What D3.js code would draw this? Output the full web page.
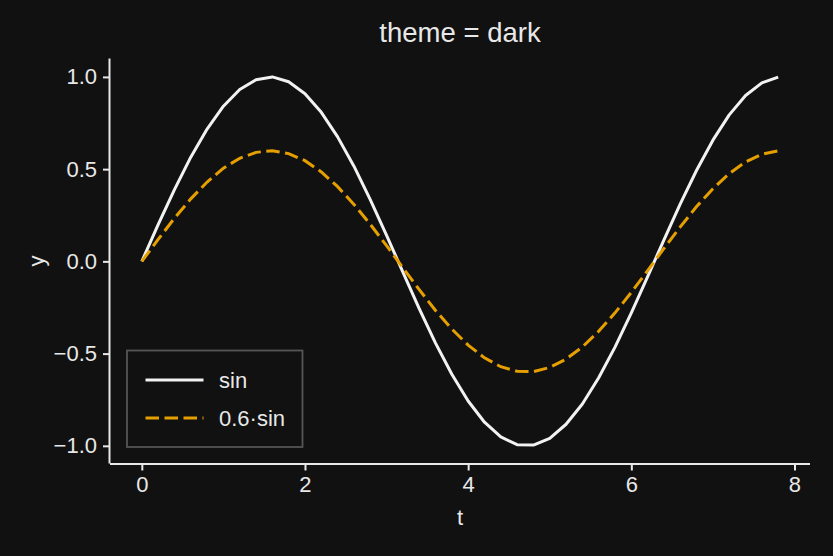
<!DOCTYPE html>
<html>
<head>
<meta charset="utf-8">
<script src="https://cdn.jsdelivr.net/npm/d3@7"></script>
<style>
  html, body { margin: 0; padding: 0; background: #111111; }
  svg { display: block; }
  text { font-family: "Liberation Sans", Arial, sans-serif; fill: #e8e8e8; }
</style>
</head>
<body>
<svg id="chart" width="833" height="556"></svg>
<script>
// ---- data ----
const tValues = [0.0, 0.2, 0.4, 0.6, 0.8, 1.0, 1.2, 1.4, 1.6, 1.8,
                 2.0, 2.2, 2.4, 2.6, 2.8, 3.0, 3.2, 3.4, 3.6, 3.8,
                 4.0, 4.2, 4.4, 4.6, 4.8, 5.0, 5.2, 5.4, 5.6, 5.8,
                 6.0, 6.2, 6.4, 6.6, 6.8, 7.0, 7.2, 7.4, 7.6, 7.8];
const sinValues = [0.000, 0.199, 0.389, 0.565, 0.717, 0.841, 0.932, 0.985, 1.000, 0.974,
                   0.909, 0.808, 0.675, 0.516, 0.335, 0.141, -0.058, -0.256, -0.443, -0.612,
                   -0.757, -0.872, -0.952, -0.994, -0.996, -0.959, -0.883, -0.773, -0.631, -0.465,
                   -0.279, -0.083, 0.117, 0.312, 0.494, 0.657, 0.794, 0.899, 0.968, 0.999];
const scaledSinValues = [0.000, 0.119, 0.234, 0.339, 0.430, 0.505, 0.559, 0.591, 0.600, 0.584,
                         0.546, 0.485, 0.405, 0.309, 0.201, 0.085, -0.035, -0.153, -0.266, -0.367,
                         -0.454, -0.523, -0.571, -0.596, -0.598, -0.575, -0.530, -0.464, -0.379, -0.279,
                         -0.168, -0.050, 0.070, 0.187, 0.297, 0.394, 0.476, 0.539, 0.581, 0.599];
const seriesNames = ["sin", "0.6·sin"];
const xTicks = [0, 2, 4, 6, 8];
const yTicks = [-1.0, -0.5, 0.0, 0.5, 1.0];
const titleText = "theme = dark";
const xLabel = "t";
const yLabel = "y";

// ---- layout ----
const svg = d3.select("#chart");
const W = 833, H = 556;
const plot = { left: 110, right: 810, top: 58.5, bottom: 463.5 };
const fg = "#e8e8e8";
const lineWhite = "#f2f2f2";
const orange = "#E69F00";
const fontSize = 22;

svg.append("rect").attr("width", W).attr("height", H).attr("fill", "#111111");

// domains with 5% margins like matplotlib
const tMin = d3.min(tValues), tMax = d3.max(tValues);
const tPad = (tMax - tMin) * 0.05;
const yAll = sinValues.concat(scaledSinValues);
const yMin = d3.min(yAll), yMax = d3.max(yAll);
const yPad = (yMax - yMin) * 0.05;

const x = d3.scaleLinear().domain([tMin - tPad, tMax + tPad]).range([plot.left, plot.right]);
const y = d3.scaleLinear().domain([yMin - yPad, yMax + yPad]).range([plot.bottom, plot.top]);

// axes
const xAxis = d3.axisBottom(x).tickValues(xTicks).tickFormat(d3.format("d")).tickSizeOuter(0).tickSize(7).tickPadding(6);
const yAxis = d3.axisLeft(y).tickValues(yTicks).tickFormat(d => d3.format(".1f")(d).replace("-", "\u2212")).tickSizeOuter(0).tickSize(7).tickPadding(6);

const gx = svg.append("g").attr("transform", `translate(0,${plot.bottom})`).call(xAxis);
const gy = svg.append("g").attr("transform", `translate(${plot.left},0)`).call(yAxis);

[gx, gy].forEach(g => {
  g.select(".domain").attr("stroke", fg).attr("stroke-width", 2);
  g.selectAll(".tick line").attr("stroke", fg).attr("stroke-width", 2);
  g.selectAll(".tick text").attr("fill", fg).style("font-size", fontSize + "px")
    .style("font-family", '"Liberation Sans", Arial, sans-serif');
});
gx.select(".domain").attr("d", `M${plot.left},0.5H${plot.right}`);
gy.select(".domain").attr("d", `M-0.5,${plot.bottom}V${plot.top}`);

// lines
const data1 = tValues.map((t, i) => [t, sinValues[i]]);
const data2 = tValues.map((t, i) => [t, scaledSinValues[i]]);
const line = d3.line().x(d => x(d[0])).y(d => y(d[1]));

svg.append("path").datum(data1).attr("d", line)
  .attr("fill", "none").attr("stroke", lineWhite).attr("stroke-width", 3).attr("stroke-linejoin", "round");
svg.append("path").datum(data2).attr("d", line)
  .attr("fill", "none").attr("stroke", orange).attr("stroke-width", 3)
  .attr("stroke-dasharray", "13.5,5.5");

// title & labels
svg.append("text").attr("x", (plot.left + plot.right) / 2).attr("y", 42)
  .attr("text-anchor", "middle").style("font-size", "27.5px").text(titleText);
svg.append("text").attr("x", (plot.left + plot.right) / 2).attr("y", 525)
  .attr("text-anchor", "middle").style("font-size", fontSize + "px").text(xLabel);
svg.append("text").attr("transform", `translate(44,${(plot.top + plot.bottom) / 2}) rotate(-90)`)
  .attr("text-anchor", "middle").style("font-size", fontSize + "px").text(yLabel);

// legend
const lg = svg.append("g");
lg.append("rect").attr("x", 127).attr("y", 350.5).attr("width", 175.5).attr("height", 96.5)
  .attr("fill", "#111111").attr("stroke", "#555555").attr("stroke-width", 1.8);
const legendRows = [
  { name: seriesNames[0], color: lineWhite, dash: null, yy: 380 },
  { name: seriesNames[1], color: orange, dash: "13.5,5.5", yy: 418 }
];
legendRows.forEach(r => {
  lg.append("line").attr("x1", 145.5).attr("x2", 203.5).attr("y1", r.yy).attr("y2", r.yy)
    .attr("stroke", r.color).attr("stroke-width", 3).attr("stroke-dasharray", r.dash);
  lg.append("text").attr("x", 219).attr("y", r.yy + 7.5).style("font-size", fontSize + "px").text(r.name);
});
</script>
</body>
</html>
